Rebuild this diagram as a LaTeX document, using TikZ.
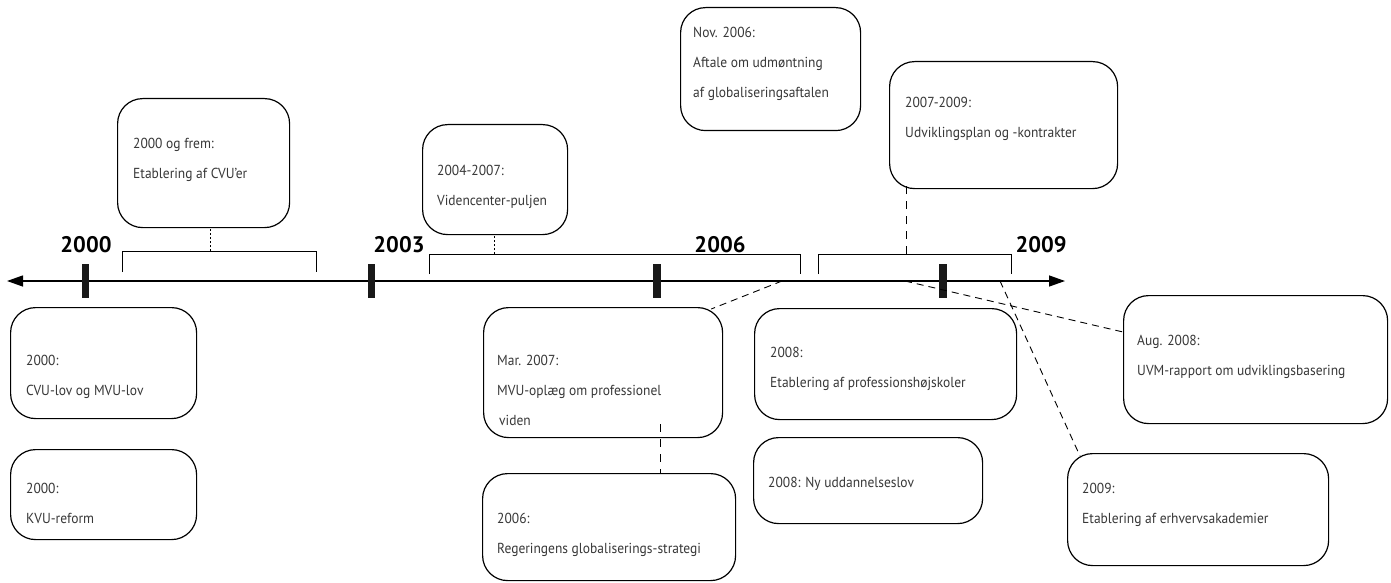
\documentclass[tikz,border=0pt]{standalone}
\usepackage{fontspec}
\setmainfont[FakeStretch=0.93]{PT Sans}
\newfontfamily\yearfont{PT Sans}
\usetikzlibrary{arrows.meta}
\newcommand\evlines[1]{\begin{tabular}[t]{@{}l@{}}#1\end{tabular}}
\begin{document}
\begin{tikzpicture}[x=1pt,y=-1pt,
  evbox/.style={draw=black, line width=1.2pt, rounded corners=25pt, anchor=north west, inner sep=0pt},
  evtext/.style={anchor=base west, inner sep=0pt, text=black!78, font=\fontsize{14.5}{30}\selectfont},
  yearlbl/.style={anchor=base, inner sep=0pt, font=\yearfont\fontsize{22.5}{22}\selectfont\bfseries},
  yeartick/.style={fill=black!90, draw=none},
  brk/.style={line width=0.9pt},
  link/.style={line width=0.9pt, dash pattern=on 7pt off 5pt},
  dotlink/.style={line width=0.8pt, dash pattern=on 2pt off 2pt}]
\useasboundingbox (0,0) rectangle (1391,583);
\fill[white] (0,0) rectangle (1391,583);

% axis
\coordinate (axL) at (7,281);
\coordinate (axR) at (1065,281);
\draw[line width=1.3pt, {Triangle[length=16pt,width=11pt]}-{Triangle[length=16pt,width=11pt]}] (axL) -- (axR);
\fill[yeartick] (82,264) rectangle (89,298);
\fill[yeartick] (368,264) rectangle (375,298);
\fill[yeartick] (653,264) rectangle (661,298);
\fill[yeartick] (939,264) rectangle (947,298);

\node[yearlbl] (y2000) at (86,252) {2000};
\node[yearlbl] (y2003) at (399,252) {2003};
\node[yearlbl] (y2006) at (720,252) {2006};
\node[yearlbl] (y2009) at (1041,252) {2009};

% brackets
\draw[brk] (122,272) -- (122,251) -- (316,251) -- (316,272);
\draw[brk] (429,274) -- (429,254) -- (800,254) -- (800,274);
\draw[brk] (818,274) -- (818,254) -- (1011,254) -- (1011,274);
\coordinate (k1) at (210,251);
\coordinate (k2) at (494,254);
\coordinate (k3) at (906,254);

% boxes
\node[evbox, minimum width=172pt, minimum height=129pt] (b1) at (117,98) {};
\node[evbox, minimum width=145pt, minimum height=110pt] (b2) at (422,124) {};
\node[evbox, minimum width=180pt, minimum height=123pt] (b3) at (680,7) {};
\node[evbox, minimum width=228pt, minimum height=127pt] (b4) at (889,61) {};
\node[evbox, minimum width=186pt, minimum height=111pt] (b5) at (10,307) {};
\node[evbox, minimum width=186pt, minimum height=90pt] (b6) at (10,449) {};
\node[evbox, minimum width=239pt, minimum height=130pt] (b7) at (483,307) {};
\node[evbox, minimum width=253pt, minimum height=107pt] (b8) at (482,473) {};
\node[evbox, minimum width=262pt, minimum height=111pt] (b9) at (754,308) {};
\node[evbox, minimum width=229pt, minimum height=86pt] (b10) at (753,437) {};
\node[evbox, minimum width=264pt, minimum height=128pt] (b11) at (1123,295) {};
\node[evbox, minimum width=261pt, minimum height=112pt] (b12) at (1067,453) {};

% texts
\node[evtext] (t1) at (133,148) {\evlines{2000 og frem:\\Etablering af CVU’er}};
\node[evtext] (t2) at (437,175) {\evlines{2004-2007:\\Videncenter-puljen}};
\node[evtext] (t3) at (693,38) {\evlines{Nov. 2006:\\Aftale om udmøntning\\af globaliseringsaftalen}};
\node[evtext] (t4) at (905,108) {\evlines{2007-2009:\\Udviklingsplan og -kontrakter}};
\node[evtext] (t5) at (26,365) {\evlines{2000:\\CVU-lov og MVU-lov}};
\node[evtext] (t6) at (26,493) {\evlines{2000:\\KVU-reform}};
\node[evtext] (t7) at (497,365) {\evlines{Mar. 2007:\\MVU-oplæg om professionel\\\hspace{2pt}viden}};
\node[evtext] (t8) at (497,523) {\evlines{2006:\\Regeringens globaliserings-strategi}};
\node[evtext] (t9) at (770,357) {\evlines{2008:\\Etablering af professionshøjskoler}};
\node[evtext] (t10) at (768,487) {2008: Ny uddannelseslov};
\node[evtext] (t11) at (1137,345) {\evlines{Aug. 2008:\\UVM-rapport om udviklingsbasering}};
\node[evtext] (t12) at (1082,493) {\evlines{2009:\\Etablering af erhvervsakademier}};

% connectors
\draw[dotlink] (k1) -- (k1 |- b1.south);
\draw[dotlink] (k2) -- (k2 |- b2.south);
\draw[link, dash pattern=on 8pt off 7pt] (k3) -- ([yshift=5pt]k3 |- b4.south);
\coordinate (a1) at (782,281);
\coordinate (a2) at (905,281);
\coordinate (a3) at (1000,281);
\draw[link] (a1) -- ([xshift=-12pt,yshift=-2pt]b7.north east);
\draw[link] (a2) -- ([yshift=-37pt]b11.north west);
\draw[link] (a3) -- ([xshift=13pt,yshift=-3pt]b12.north west);
\coordinate (d7) at (660,424);
\draw[link, dash pattern=on 8pt off 7pt] (d7) -- (d7 |- b8.north);
\end{tikzpicture}
\end{document}
